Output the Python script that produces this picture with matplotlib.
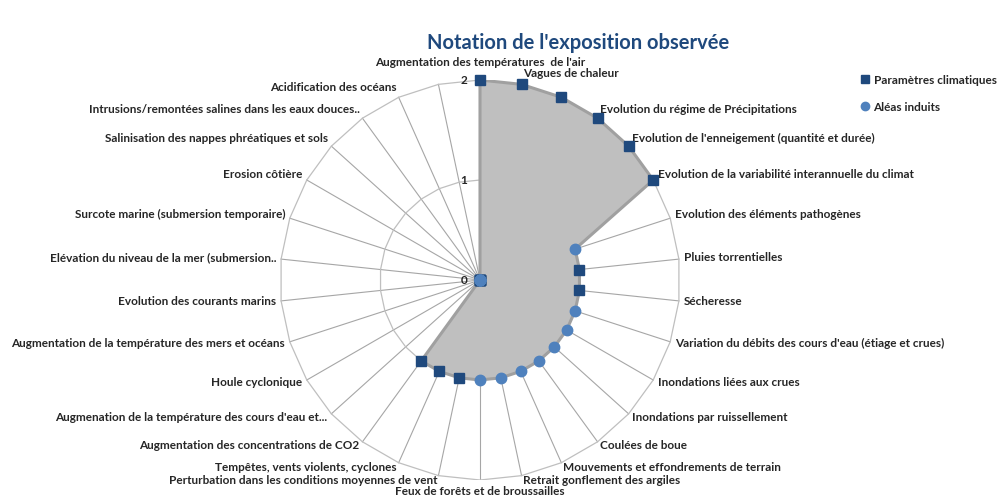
import numpy as np
import matplotlib
matplotlib.use("Agg")
import matplotlib.pyplot as plt
from matplotlib.lines import Line2D

plt.rcParams["font.family"] = ["Lato", "DejaVu Sans"]

# categories clockwise from the top (two labels are hidden in the original)
categories = [
    "Augmentation des températures  de l'air",
    "Vagues de chaleur",
    "",
    "Evolution du régime de Précipitations",
    "Evolution de l'enneigement (quantité et durée)",
    "Evolution de la variabilité interannuelle du climat",
    "Evolution des éléments pathogènes",
    "Pluies torrentielles",
    "Sécheresse",
    "Variation du débits des cours d'eau (étiage et crues)",
    "Inondations liées aux crues",
    "Inondations par ruissellement",
    "Coulées de boue",
    "Mouvements et effondrements de terrain",
    "Retrait gonflement des argiles",
    "Feux de forêts et de broussailles",
    "Perturbation dans les conditions moyennes de vent",
    "Tempêtes, vents violents, cyclones",
    "Augmentation des concentrations de CO2",
    "Augmenation de la température des cours d'eau et...",
    "Houle cyclonique",
    "Augmentation de la température des mers et océans",
    "Evolution des courants marins",
    "Elévation du niveau de la mer (submersion..",
    "Surcote marine (submersion temporaire)",
    "Erosion côtière",
    "Salinisation des nappes phréatiques et sols",
    "Intrusions/remontées salines dans les eaux douces..",
    "Acidification des océans",
    "",
]
scores = [2, 2, 2, 2, 2, 2, 1, 1, 1, 1, 1, 1, 1, 1, 1, 1, 1, 1, 1,
          0, 0, 0, 0, 0, 0, 0, 0, 0, 0, 0]
# "P" = Paramètres climatiques, "A" = Aléas induits
kinds = ["P", "P", "P", "P", "P", "P", "A", "P", "P", "A", "A", "A", "A", "A", "A", "A",
         "P", "P", "P", "P", "A", "P", "P", "P", "A", "A", "A", "A", "P", "P"]
rticks = [0, 1, 2]

n = len(categories)
theta = np.arange(n) * 2 * np.pi / n
sin, cos = np.sin(theta), np.cos(theta)
vals = np.array(scores, dtype=float)
kinds = np.array(kinds)
rmax = rticks[-1]


def to_xy(r):
    # radar layout: first category at the top, going clockwise
    return r * sin, r * cos


fig = plt.figure(figsize=(9.97, 4.97), dpi=100)
ax = fig.add_axes([280 / 997, 17 / 497, 400 / 997, 400 / 497])
ax.set_xlim(-rmax, rmax)
ax.set_ylim(-rmax, rmax)
ax.set_aspect("equal")
ax.set_axis_off()

# grid: spokes and polygon rings
ox, oy = to_xy(rmax)
for x, y in zip(ox, oy):
    ax.plot([0, x], [0, y], color="#A6A6A6", lw=0.8, zorder=1)
for r in rticks[1:]:
    gx, gy = to_xy(r)
    ax.plot(np.append(gx, gx[0]), np.append(gy, gy[0]), color="#BFBFBF", lw=0.9, zorder=1)

# filled area
vx, vy = to_xy(vals)
ax.fill(vx, vy, facecolor="#BFBFBF", edgecolor="#A0A0A0", lw=2.2, zorder=2)

sq = kinds == "P"
ci = kinds == "A"
ax.plot(vx[sq], vy[sq], "s", color="#1F497D", ms=7.5, zorder=4, clip_on=False)
ax.plot(vx[ci], vy[ci], "o", color="#4F81BD", ms=7.5, zorder=5, clip_on=False)

# radial tick labels
for r in rticks:
    ax.annotate(str(r), xy=(0, r), xytext=(-9, 0), textcoords="offset points",
                ha="right", va="center", fontsize=8.5, fontweight="bold",
                color="#262626", annotation_clip=False)

# category labels
px = 72 / 100
for x, y, s, c, lab in zip(ox, oy, sin, cos, categories):
    if abs(s) < 0.05:
        ha = "center"
        va = "bottom" if c > 0 else "top"
        dx, dy = 0, (12 if c > 0 else -6)
    else:
        ha = "left" if s > 0 else "right"
        va = "center"
        dx = 5 * s
        dy = 11 * c if c > 0 else 5 * c
    ax.annotate(lab, xy=(x, y), xytext=(dx * px, dy * px), textcoords="offset points",
                ha=ha, va=va, fontsize=8.5, fontweight="bold", color="#262626",
                annotation_clip=False)

fig.text(578 / 997, 1 - 43 / 497, "Notation de l'exposition observée", ha="center",
         va="center", fontsize=14.5, fontweight="bold", color="#1F497D")

handles = [
    Line2D([], [], marker="s", ls="none", color="#1F497D", ms=6, label="Paramètres climatiques"),
    Line2D([], [], marker="o", ls="none", color="#4F81BD", ms=6, label="Aléas induits"),
]
leg = fig.legend(handles=handles, loc="upper left", bbox_to_anchor=(861 / 997, 1 - 74 / 497),
                 frameon=False, handlelength=0.6, handletextpad=0.3, labelspacing=1.1,
                 borderaxespad=0, borderpad=0)
for txt in leg.get_texts():
    txt.set_fontsize(8.5)
    txt.set_fontweight("bold")
    txt.set_color("#262626")

fig.savefig("out.png", dpi=100)
